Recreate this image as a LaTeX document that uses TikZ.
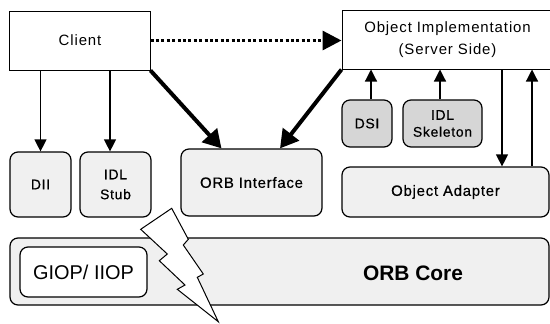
\documentclass[tikz,border=0pt]{standalone}
\usepackage{fontspec}
\setmainfont{Liberation Sans}[LetterSpace=6]
\newfontfamily\heavyfont{Liberation Sans}[LetterSpace=5,FakeBold=0.5]
\usetikzlibrary{arrows.meta}
\begin{document}
\begin{tikzpicture}[x=1bp,y=-1bp,
  lbox/.style={draw, line width=1.2bp, rounded corners=8bp, fill=gray!12, inner sep=0pt, align=center, font=\heavyfont\fontsize{14}{18}\selectfont},
  dbox/.style={lbox, fill=gray!32},
  pbox/.style={draw, line width=1bp, fill=white, inner sep=0pt, align=center, font=\fontsize{15}{22}\selectfont},
  thinarrow/.style={line width=1.2bp, -{Triangle[length=12bp,width=12bp]}},
  thickarrow/.style={line width=4bp, -{Triangle[length=18bp,width=20bp]}},
  dotarrow/.style={line width=3.3bp, dash pattern=on 3bp off 2.4bp, -{Triangle[length=19bp,width=19bp]}}]
\useasboundingbox (0,0) rectangle (550,323);
% top boxes
\node[pbox, minimum width=140bp, minimum height=59bp] (client) at (80,40.5) {Client};
\node[pbox, minimum width=211bp, minimum height=59bp, text width=190bp] (impl) at (447.5,39.5) {Object Implementation\\(Server Side)};
% middle boxes
\node[lbox, minimum width=61bp, minimum height=65bp] (dii) at (40.5,184.5) {DII};
\node[lbox, minimum width=71bp, minimum height=65bp, font=\heavyfont\fontsize{14}{20}\selectfont] (stub) at (115.5,184.5) {IDL\\Stub};
\node[lbox, minimum width=141bp, minimum height=67bp, font=\heavyfont\fontsize{15}{18}\selectfont] (orbif) at (251.5,182.5) {ORB Interface};
\node[dbox, minimum width=50bp, minimum height=47bp] (dsi) at (367,123.5) {DSI};
\node[dbox, minimum width=79bp, minimum height=47bp, font=\heavyfont\fontsize{14}{17}\selectfont] (skel) at (442.5,123.5) {IDL\\Skeleton};
\node[lbox, minimum width=207bp, minimum height=50bp, font=\heavyfont\fontsize{15}{18}\selectfont] (adapter) at (445.5,192) {Object Adapter};
% ORB core
\node[lbox, minimum width=539bp, minimum height=67bp] (core) at (279.5,271.5) {};
\node[draw, line width=1.2bp, rounded corners=8bp, fill=white, inner sep=0pt, minimum width=127bp, minimum height=50bp, font=\fontsize{20}{24}\selectfont\addfontfeatures{LetterSpace=0}] (giop) at (83.5,272) {GIOP/ IIOP};
\node[font=\fontsize{21}{24}\selectfont\bfseries\addfontfeatures{LetterSpace=0}, inner sep=0pt] (corelabel) at (413,273) {ORB Core};
% lightning
\draw[line width=1bp, fill=white, line join=miter]
  (171.7,208.3) -- (140.7,229.3) -- (167.3,254) -- (159.3,260.7) -- (185,285) -- (177.3,289.3)
  -- (218.3,321.7) -- (197.3,277.3) -- (203.3,274) -- (183.3,245) -- (188.3,239.3) -- cycle;
% arrows
\draw[thinarrow] (dii.north |- client.south) -- (dii.north);
\draw[thinarrow] ([xshift=-5.5bp]stub.north |- client.south) -- ([xshift=-5.5bp]stub.north);
\draw[thickarrow] (client.south east) -- ([xshift=-30bp]orbif.north);
\draw[thickarrow] (impl.south west) -- ([xshift=28.5bp]orbif.north);
\draw[dotarrow] (client.east) -- (client.east -| impl.west);
\draw[thinarrow] ([xshift=4bp]dsi.north) -- ([xshift=4bp]dsi.north |- impl.south);
\draw[thinarrow] ([xshift=-2.5bp]skel.north) -- ([xshift=-2.5bp]skel.north |- impl.south);
\draw[thinarrow] ([xshift=56.5bp]adapter.north |- impl.south) -- ([xshift=56.5bp]adapter.north);
\draw[thinarrow] ([xshift=86.5bp]adapter.north) -- ([xshift=86.5bp]adapter.north |- impl.south);
\end{tikzpicture}
\end{document}
